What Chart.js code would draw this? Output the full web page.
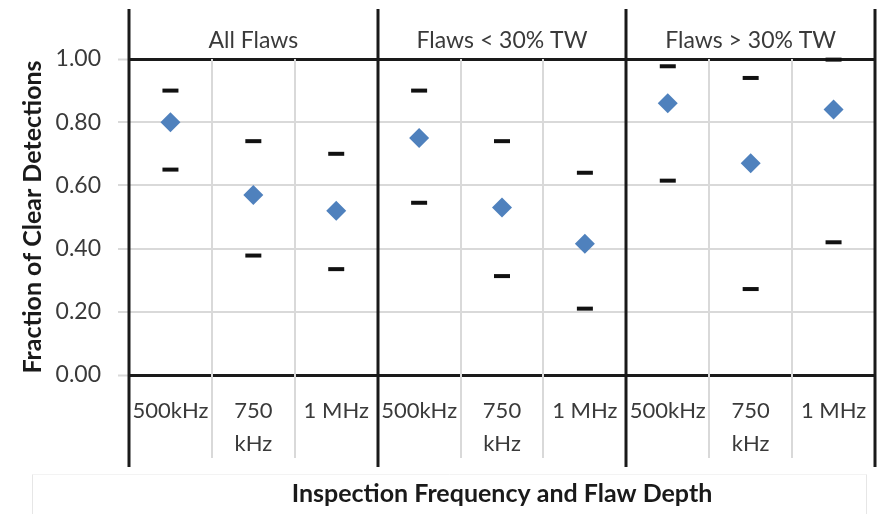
<!DOCTYPE html>
<html>
<head>
<meta charset="utf-8">
<script src="https://cdn.jsdelivr.net/npm/chart.js@4.4.1/dist/chart.umd.min.js"></script>
<style>
  html, body { margin: 0; padding: 0; background: #fff; }
  #wrap { width: 877px; height: 514px; }
</style>
</head>
<body>
<div id="wrap"><canvas id="chart" width="877" height="514"></canvas></div>
<script>
// Fraction of clear detections by frequency and flaw depth
const categories = [
    ['500kHz'], ['750', 'kHz'], ['1 MHz'],
    ['500kHz'], ['750', 'kHz'], ['1 MHz'],
    ['500kHz'], ['750', 'kHz'], ['1 MHz']
];
const groups = ['All Flaws', 'Flaws < 30% TW', 'Flaws > 30% TW'];
const meanValues  = [0.80, 0.57, 0.52, 0.75, 0.53, 0.415, 0.86, 0.67, 0.84];
const upperValues = [0.90, 0.74, 0.70, 0.90, 0.74, 0.64, 0.977, 0.94, 0.998];
const lowerValues = [0.65, 0.378, 0.335, 0.545, 0.313, 0.21, 0.615, 0.272, 0.42];
const yTicks = [0, 0.2, 0.4, 0.6, 0.8, 1.0];

const FONT = 'Lato, "Liberation Sans", sans-serif';
const TEXT = '#3a3a3a';
const GRID = '#d9d9d9';

// boundaries between categories, from the x scale
function boundary(chart, i) {
    const x = chart.scales.x;
    const n = categories.length;
    if (i === 0) return chart.chartArea.left;
    if (i === n) return chart.chartArea.right;
    return (x.getPixelForValue(i - 1) + x.getPixelForValue(i)) / 2;
}

const framePlugin = {
    id: 'frame',
    beforeDatasetsDraw(chart) {
        const {ctx, chartArea} = chart;
        const n = categories.length;
        ctx.save();
        for (let i = 0; i <= n; i++) {
            const px = Math.round(boundary(chart, i));
            ctx.beginPath();
            if (i % 3 === 0) {
                ctx.strokeStyle = '#1a1a1a';
                ctx.lineWidth = 3;
                ctx.moveTo(px, 9);
                ctx.lineTo(px, 467);
            } else {
                ctx.strokeStyle = GRID;
                ctx.lineWidth = 2;
                ctx.moveTo(px, chartArea.top);
                ctx.lineTo(px, 458);
            }
            ctx.stroke();
        }
        // group headers
        ctx.fillStyle = TEXT;
        ctx.font = '23px ' + FONT;
        ctx.textAlign = 'center';
        ctx.textBaseline = 'middle';
        groups.forEach((g, k) => {
            const cx = (boundary(chart, k * 3) + boundary(chart, k * 3 + 3)) / 2;
            ctx.fillText(g, cx, 41);
        });
        // faint frame round the axis title
        ctx.lineWidth = 1;
        ctx.strokeStyle = '#f3f3f3';
        ctx.beginPath();
        ctx.moveTo(32.5, 474.5);
        ctx.lineTo(866.5, 474.5);
        ctx.stroke();
        ctx.strokeStyle = '#e6e6e6';
        ctx.beginPath();
        ctx.moveTo(32.5, 474.5);
        ctx.lineTo(32.5, 514);
        ctx.moveTo(866.5, 474.5);
        ctx.lineTo(866.5, 514);
        ctx.stroke();
        ctx.restore();
    }
};

const ctx = document.getElementById('chart').getContext('2d');
const chart = new Chart(ctx, {
    type: 'line',
    data: {
        labels: categories,
        datasets: [
            {
                label: 'Upper',
                data: upperValues,
                showLine: false,
                pointStyle: 'line',
                pointRadius: 8,
                pointBorderWidth: 4,
                pointBorderColor: '#111',
                pointBackgroundColor: '#111',
                clip: false
            },
            {
                label: 'Mean',
                data: meanValues,
                showLine: false,
                pointStyle: 'rectRot',
                pointRadius: 10,
                pointBorderWidth: 0,
                pointBackgroundColor: '#4f81bd',
                pointBorderColor: '#4f81bd',
                clip: false
            },
            {
                label: 'Lower',
                data: lowerValues,
                showLine: false,
                pointStyle: 'line',
                pointRadius: 8,
                pointBorderWidth: 4,
                pointBorderColor: '#111',
                pointBackgroundColor: '#111',
                clip: false
            }
        ]
    },
    options: {
        responsive: false,
        animation: false,
        layout: {
            autoPadding: false,   // don't reserve room for the point markers
            padding: { top: 59, right: 2, left: 0, bottom: 0 }
        },
        plugins: {
            legend: { display: false },
            tooltip: { enabled: false }
        },
        scales: {
            x: {
                offset: true,
                grid: { display: false, drawTicks: false },
                border: { display: false },
                ticks: {
                    color: TEXT,
                    font: { family: FONT, size: 22, lineHeight: 1.5 },
                    padding: 19,
                    maxRotation: 0,
                    autoSkip: false
                },
                title: {
                    display: true,
                    text: 'Inspection Frequency and Flaw Depth',
                    color: '#1a1a1a',
                    font: { family: FONT, size: 25, weight: 'bold' },
                    padding: { top: 4, bottom: 5 }
                },
                afterFit(scale) {
                    scale.height = 139;
                    scale.paddingLeft = 0;
                    scale.paddingRight = 0;
                }
            },
            y: {
                min: 0,
                max: 1,
                afterBuildTicks(scale) {
                    scale.ticks = yTicks.map(v => ({ value: v }));
                },
                grid: {
                    color: c => (c.tick && (c.tick.value === 0 || c.tick.value === 1)) ? '#1a1a1a' : GRID,
                    lineWidth: c => (c.tick && (c.tick.value === 0 || c.tick.value === 1)) ? 3 : 2,
                    tickColor: GRID,
                    tickLength: 11,
                    tickWidth: 2
                },
                border: { display: false },
                ticks: {
                    color: TEXT,
                    font: { family: FONT, size: 23 },
                    padding: 17,
                    callback: v => v.toFixed(2)
                },
                title: {
                    display: true,
                    text: 'Fraction of Clear Detections',
                    color: '#1a1a1a',
                    font: { family: FONT, size: 25, weight: 'bold' },
                    padding: { top: 18, bottom: 0 }
                },
                afterFit(scale) {
                    scale.width = 129;
                    scale.paddingTop = 0;
                    scale.paddingBottom = 0;
                }
            }
        }
    },
    plugins: [framePlugin]
});
</script>
</body>
</html>
